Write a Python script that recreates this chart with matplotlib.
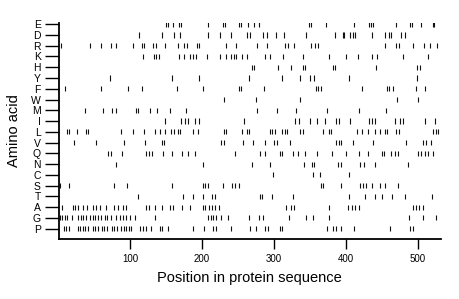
import matplotlib
matplotlib.use("Agg")
import matplotlib.pyplot as plt

# Amino acids, top to bottom
amino_acids = ["E", "D", "R", "K", "H", "Y", "F", "W", "M", "I",
               "L", "V", "Q", "N", "C", "S", "T", "A", "G", "P"]

pos_E = [150, 153, 160, 168, 171, 209, 229, 232, 251, 254, 264, 273, 280, 349, 352,
         372, 411, 432, 435, 438, 470, 490, 492, 504, 521, 523]
pos_D = [113, 144, 161, 170, 209, 225, 240, 262, 267, 285, 291, 303, 314, 345, 385,
         396, 398, 406, 410, 413, 437, 454, 460, 463, 477, 483]
pos_R = [4, 44, 60, 74, 81, 104, 117, 120, 132, 136, 149, 167, 175, 179, 193, 196,
         233, 247, 277, 290, 315, 319, 328, 351, 357, 362, 454, 470, 474, 493, 509,
         517, 527]
pos_K = [118, 133, 136, 140, 168, 175, 184, 188, 192, 207, 225, 233, 241, 244, 248,
         255, 262, 288, 295, 313, 340, 376, 401, 417, 437, 444, 480, 514]
pos_H = [269, 273, 306, 324, 340, 343, 382, 385, 442, 499, 503]
pos_Y = [72, 159, 196, 265, 311, 337, 350, 356, 405, 499]
pos_F = [10, 60, 97, 116, 165, 201, 251, 254, 286, 359, 362, 366, 423, 457, 460,
         465, 497, 510]
pos_W = [231, 275, 337, 471, 500]
pos_M = [38, 63, 75, 80, 108, 111, 128, 137, 156, 178, 276, 304, 331, 374, 419, 456]
pos_I = [149, 171, 176, 180, 190, 196, 258, 330, 335, 350, 360, 371, 386, 390, 406,
         433, 436, 440, 468, 475, 480, 510, 524]
pos_L = [12, 15, 26, 39, 42, 88, 104, 119, 134, 141, 148, 157, 161, 167, 170, 188,
         195, 231, 234, 256, 262, 266, 294, 298, 301, 311, 315, 318, 337, 341, 368,
         376, 380, 416, 423, 431, 440, 448, 454, 457, 470, 474, 521, 525, 528]
pos_V = [22, 53, 91, 121, 144, 147, 227, 231, 257, 271, 288, 300, 304, 322, 387,
         391, 394, 410, 438, 484, 507, 511, 519]
pos_Q = [70, 73, 89, 122, 126, 131, 146, 158, 172, 181, 190, 246, 281, 287, 308,
         312, 327, 334, 343, 360, 381, 400, 418, 431, 450, 453, 463, 468, 473, 500,
         504, 510, 514, 521]
pos_N = [80, 201, 270, 294, 342, 353, 356, 389, 393, 420, 425, 440, 487]
pos_C = [299, 355, 364, 405]
pos_S = [2, 15, 77, 96, 158, 201, 204, 208, 229, 242, 246, 251, 365, 369, 394, 420,
         424, 428, 437, 448, 454, 472]
pos_T = [111, 173, 188, 201, 214, 218, 281, 284, 298, 326, 404, 427, 441, 451, 464,
         483, 520]
pos_A = [6, 21, 24, 28, 35, 40, 48, 52, 58, 67, 78, 83, 90, 94, 122, 127, 134, 145,
         156, 160, 172, 183, 201, 204, 210, 214, 218, 224, 317, 324, 328, 377, 403,
         408, 413, 418, 493, 497, 502, 507]
pos_G = [2, 5, 9, 12, 19, 27, 32, 35, 39, 44, 48, 51, 55, 60, 65, 68, 74, 81, 86, 90,
         95, 100, 107, 135, 209, 212, 215, 219, 226, 236, 265, 280, 285, 321, 345,
         354, 377, 488, 507, 526]
pos_P = [8, 11, 15, 27, 30, 34, 38, 41, 48, 51, 55, 61, 64, 68, 75, 78, 82, 87, 91,
         95, 98, 101, 114, 118, 122, 129, 142, 145, 153, 188, 203, 216, 219, 241, 267,
         275, 288, 292, 308, 312, 374, 382, 386, 393, 412, 462, 489, 494]

positions = {
    "E": pos_E, "D": pos_D, "R": pos_R, "K": pos_K, "H": pos_H, "Y": pos_Y,
    "F": pos_F, "W": pos_W, "M": pos_M, "I": pos_I, "L": pos_L, "V": pos_V,
    "Q": pos_Q, "N": pos_N, "C": pos_C, "S": pos_S, "T": pos_T, "A": pos_A,
    "G": pos_G, "P": pos_P,
}

x_ticks = [100, 200, 300, 400, 500]
seq_length = 532

plt.rcParams['font.family'] = ['Liberation Sans', 'DejaVu Sans']

fig = plt.figure(figsize=(4.6, 2.99), dpi=100)
ax = fig.add_axes([0.128, 0.2007, 0.830, 0.722])

n = len(amino_acids)
for i, aa in enumerate(amino_acids):
    yv = n - 1 - i
    xs = positions[aa]
    ax.vlines(xs, yv - 0.24, yv + 0.24, color="#111111", linewidth=0.8)

ax.set_xlim(1, seq_length)
ax.set_ylim(-0.96, n - 1 + 0.1)

ax.set_yticks(range(n))
ax.set_yticklabels(list(reversed(amino_acids)))
ax.set_xticks(x_ticks)
ax.set_xticklabels([str(t) for t in x_ticks])

for side in ["top", "right"]:
    ax.spines[side].set_visible(False)
for side in ["left", "bottom"]:
    ax.spines[side].set_linewidth(1.3)
    ax.spines[side].set_color("black")

ax.tick_params(axis="y", length=10, width=1.0, pad=3, labelsize=7.5)
ax.tick_params(axis="x", length=7.5, width=1.0, pad=3, labelsize=7)

ax.set_xlabel("Position in protein sequence", fontsize=10.5, labelpad=5)
ax.set_ylabel("Amino acid", fontsize=10.5, labelpad=7)

fig.savefig("out.png", dpi=100)
